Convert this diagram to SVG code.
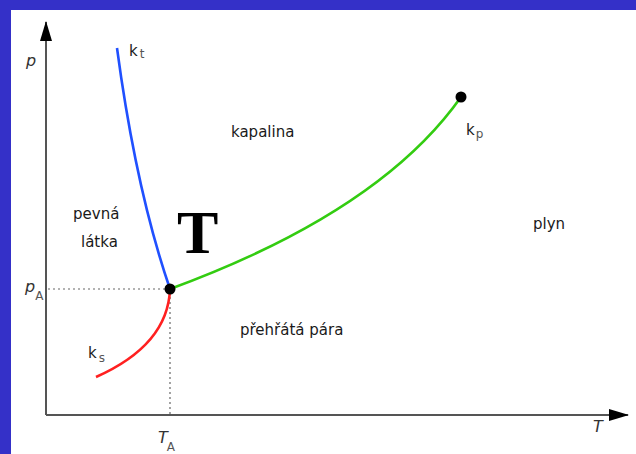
<svg xmlns="http://www.w3.org/2000/svg" width="636" height="454" viewBox="0 0 636 454">
<style>
.lbl{font-family:"DejaVu Sans",sans-serif;font-size:15px;fill:#1a1a1a}
.ax{font-family:"DejaVu Sans",sans-serif;font-size:16px;font-style:italic;fill:#333}
.sub{font-size:12px;fill:#555}
.axis{stroke:#555;stroke-width:2;fill:none}
.dot{stroke:#666;stroke-width:1.2;stroke-dasharray:2 3;fill:none}
.curve{stroke-width:2.6;fill:none}
</style>
<defs>
<marker id="arr" viewBox="0 0 20 12" refX="19" refY="6" markerWidth="20" markerHeight="12" markerUnits="userSpaceOnUse" orient="auto">
<path d="M0,0 L20,6 L0,12 z" fill="#000"/>
</marker>
</defs>
<rect x="0" y="0" width="636" height="454" fill="#fff"/>
<rect x="0" y="0" width="636" height="10" fill="#3430C8"/>
<rect x="0" y="0" width="11" height="454" fill="#3430C8"/>
<g id="axes">
<path class="axis" d="M46,415 L46,22" marker-end="url(#arr)"/>
<path class="axis" d="M46,415 L628,415" marker-end="url(#arr)"/>
<path class="dot" d="M48,289 L168,289"/>
<path class="dot" d="M170,292 L170,414"/>
<text class="ax" x="26" y="66">p</text>
<text class="ax" x="593" y="432">T</text>
<text class="ax" x="25" y="292">p<tspan class="sub" dx="0" dy="8" style="font-style:normal">A</tspan></text>
<text class="ax" x="158" y="443">T<tspan class="sub" dx="-1" dy="8" style="font-style:normal">A</tspan></text>
</g>
<g id="connectors">
<path id="kt" class="curve" stroke="#2050FF" d="M117,48 Q136,190 170,289"/>
<path id="ks" class="curve" stroke="#FF2020" d="M170,289 Q168,345 96,377"/>
<path id="kp" class="curve" stroke="#33CC11" d="M170,289 Q380,212 461,97"/>
</g>
<g id="triple">
<circle cx="170" cy="289" r="5.5" fill="#000"/>
<text x="177" y="253" style="font-family:'Liberation Serif',serif;font-weight:bold;font-size:62px;fill:#000">T</text>
</g>
<g id="critical">
<circle cx="461" cy="97" r="5.5" fill="#000"/>
<text class="lbl" x="466" y="135">k<tspan class="sub" dx="1" dy="3">p</tspan></text>
</g>
<g id="label-kt"><text class="lbl" x="129" y="56">k<tspan class="sub" dx="2" dy="2">t</tspan></text></g>
<g id="label-ks"><text class="lbl" x="88" y="358">k<tspan class="sub" dx="2" dy="4">s</tspan></text></g>
<g id="kapalina"><text class="lbl" x="231" y="137">kapalina</text></g>
<g id="pevna"><text class="lbl" x="73" y="219">pevná</text><text class="lbl" x="81" y="247">látka</text></g>
<g id="plyn"><text class="lbl" x="533" y="229">plyn</text></g>
<g id="para"><text class="lbl" x="240" y="335">přehřátá pára</text></g>
</svg>
